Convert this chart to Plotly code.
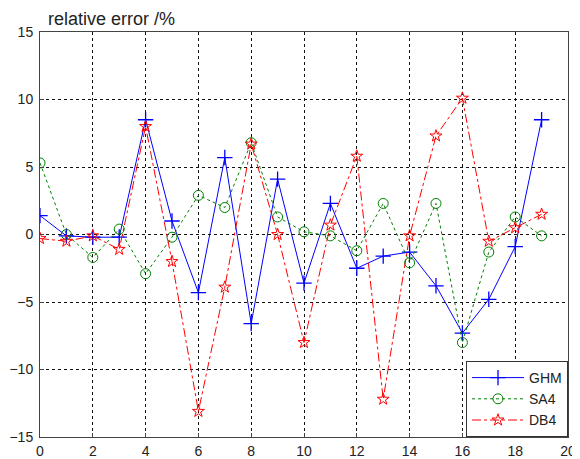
import plotly.graph_objects as go

x_vals = list(range(20))
ghm = [1.4, -0.1, -0.2, -0.2, 8.5, 1.0, -4.3, 5.7, -6.6, 4.1, -3.6, 2.3, -2.5, -1.6, -1.3, -3.8, -7.3, -4.8, -0.9, 8.5]
sa4 = [5.3, 0.0, -1.7, 0.4, -2.9, -0.2, 2.9, 2.0, 6.8, 1.3, 0.2, -0.1, -1.2, 2.3, -2.1, 2.3, -8.0, -1.3, 1.3, -0.1]
db4 = [-0.3, -0.5, -0.1, -1.1, 8.0, -2.0, -13.1, -3.9, 6.7, 0.0, -8.0, 0.7, 5.8, -12.2, -0.1, 7.3, 10.1, -0.5, 0.5, 1.5]

fig = go.Figure()
fig.add_trace(go.Scatter(x=x_vals, y=ghm, name="GHM", mode="lines+markers",
                         line=dict(color="#0000ff", width=1, dash="solid"),
                         marker=dict(symbol="cross-thin", size=11, line=dict(color="#0000ff", width=1.3))))
fig.add_trace(go.Scatter(x=x_vals, y=sa4, name="SA4", mode="lines+markers",
                         line=dict(color="#008000", width=1, dash="dot"),
                         marker=dict(symbol="circle-open", size=10, color="#008000", line=dict(width=1))))
fig.add_trace(go.Scatter(x=x_vals, y=db4, name="DB4", mode="lines+markers",
                         line=dict(color="#ff0000", width=1, dash="dashdot"),
                         marker=dict(symbol="star-open", size=9, color="#ff0000", line=dict(width=1))))

fig.update_layout(
    width=572, height=451,
    margin=dict(l=32, r=12, t=24, b=22),
    paper_bgcolor="white", plot_bgcolor="white",
    font=dict(family="Arial, Liberation Sans, sans-serif", size=14, color="#222222"),
    showlegend=True,
    legend=dict(x=1, y=0, xanchor="right", yanchor="bottom",
                bordercolor="#333333", borderwidth=1, bgcolor="white",
                font=dict(size=14), tracegroupgap=0, itemwidth=52),
    annotations=[dict(text="relative error /%", xref="paper", yref="paper",
                      x=0.0, y=1.0, xanchor="left", yanchor="bottom", yshift=1, xshift=6,
                      showarrow=False, font=dict(size=18, color="#222222"))],
)
fig.update_xaxes(range=[0, 20], dtick=2, tick0=0, showgrid=True, gridcolor="#111111",
                 griddash="3px,3px", gridwidth=1, showline=True, linecolor="#444444",
                 linewidth=1, mirror=True, ticks="inside", ticklen=4, tickcolor="#444444",
                 zeroline=False, ticklabelstandoff=1, automargin=False)
fig.update_yaxes(range=[-15, 15], dtick=5, tick0=0, showgrid=True, gridcolor="#111111",
                 griddash="3px,3px", gridwidth=1, showline=True, linecolor="#444444",
                 linewidth=1, mirror=True, ticks="inside", ticklen=4, tickcolor="#444444",
                 zeroline=False, ticklabelstandoff=3, automargin=False)

fig.write_html("out.html")
